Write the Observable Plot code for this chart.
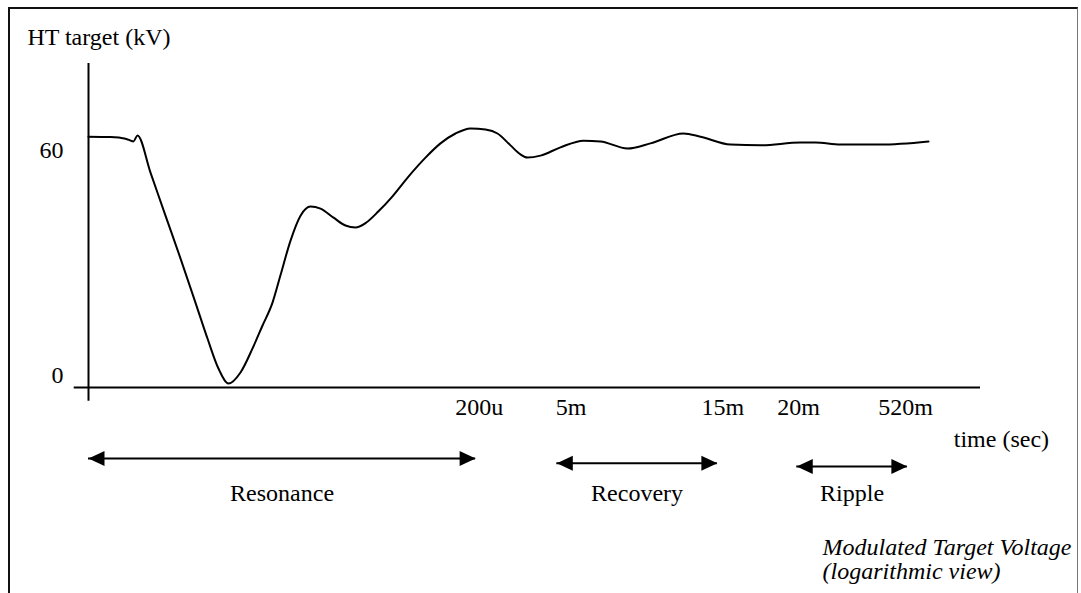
<!DOCTYPE html>
<html><head><meta charset="utf-8">
<script src="https://cdn.jsdelivr.net/npm/d3@7"></script>
<script src="https://cdn.jsdelivr.net/npm/@observablehq/plot@0.6"></script>
<style>
body{margin:0;background:#fff;}
#wrap{position:relative;width:1081px;height:593px;overflow:hidden;background:#fff;}
#frame{position:absolute;left:8px;top:7px;width:1067px;height:600px;border-top:2px solid #111;border-left:2px solid #111;border-right:1px solid #777;pointer-events:none;}
svg text{font-family:"Liberation Serif","Times New Roman",serif;}
</style></head><body><div id="wrap"><div id="chart"></div><div id="frame"></div></div>
<script>
// position along the (logarithmic, schematic) time axis, 0..100
const timePos = [0, 2.47, 4.15, 5.04, 5.49, 6.95, 8.63, 10.31, 11.99, 13.34, 14.57, 15.70, 17.04, 18.39, 19.51, 20.63, 21.52, 22.65, 23.77, 24.89, 26.01, 27.47, 28.81, 29.93, 31.05, 32.51, 34.08, 35.87, 37.78, 39.46, 41.14, 42.83, 44.51, 45.85, 47.31, 48.43, 49.22, 50.67, 52.91, 55.49, 57.40, 60.43, 63.00, 66.70, 68.61, 71.97, 75.34, 79.82, 81.50, 84.30, 88.79, 94.17];
// HT target voltage (kV)
const voltage = [63.5, 63.4, 63.0, 62.3, 63.8, 54.4, 43.5, 32.7, 21.5, 12.4, 4.8, 1.0, 3.8, 9.9, 15.7, 21.5, 28.4, 37.2, 43.5, 45.8, 45.3, 43.0, 41.0, 40.5, 41.6, 44.6, 48.4, 53.4, 58.2, 61.8, 64.3, 65.6, 65.3, 64.3, 61.3, 59.0, 58.2, 58.7, 60.8, 62.5, 62.3, 60.5, 61.8, 64.3, 63.5, 61.5, 61.3, 62.0, 62.0, 61.5, 61.5, 62.3];

const xTickLabels = ["200u", "5m", "15m", "20m", "520m"];
const xTickPos = [43.8, 54.1, 71.1, 79.6, 91.6];

const phaseNames = ["Resonance", "Recovery", "Ripple"];
const phaseStart = [0, 52.5, 79.4];
const phaseEnd = [43.4, 70.5, 91.8];

const curve = timePos.map((t, i) => ({t, v: voltage[i]}));
const ticks = xTickLabels.map((label, i) => ({label, t: xTickPos[i]}));
const arrowLevel = [-18, -19.2, -20];
const phases = phaseNames.map((name, i) => ({name, a: phaseStart[i], b: phaseEnd[i], y: arrowLevel[i], mid: (phaseStart[i] + phaseEnd[i]) / 2}));

const headRight = {draw(ctx) { ctx.moveTo(0, 0); ctx.lineTo(-16, -7.5); ctx.lineTo(-16, 7.5); ctx.closePath(); }};
const headLeft = {draw(ctx) { ctx.moveTo(0, 0); ctx.lineTo(16, -7.5); ctx.lineTo(16, 7.5); ctx.closePath(); }};

const font = "'Liberation Serif', 'Times New Roman', serif";
const chart = Plot.plot({
  width: 1081, height: 593,
  marginTop: 0, marginRight: 0, marginBottom: 0, marginLeft: 0,
  x: {domain: [0, 100], range: [88, 980], axis: null},
  y: {domain: [0, 60], range: [387, 150], axis: null},
  style: {fontFamily: font, fontSize: "24px", background: "transparent", overflow: "visible"},
  marks: [
    Plot.ruleX([0], {y1: -3.5, y2: 82, stroke: "#000", strokeWidth: 2}),
    Plot.ruleY([0], {x1: -1.6, x2: 100, stroke: "#000", strokeWidth: 2}),
    Plot.line(curve, {x: "t", y: "v", curve: "monotone-x", stroke: "#000", strokeWidth: 2}),
    Plot.text(["HT target (kV)"], {x: -6.85, y: 88.6, text: d => d, textAnchor: "start", fontSize: 24, fill: "#000"}),
    Plot.text(["60"], {x: -2.8, y: 60, text: d => d, textAnchor: "end", fontSize: 24, fill: "#000"}),
    Plot.text(["0"], {x: -2.8, y: 0, dy: -12, text: d => d, textAnchor: "end", fontSize: 24, fill: "#000"}),
    Plot.text(ticks, {x: "t", y: 0, dy: 20, text: "label", textAnchor: "middle", fontSize: 24, fill: "#000"}),
    Plot.text(["time (sec)"], {x: 97.0, y: 0, dy: 52, text: d => d, textAnchor: "start", fontSize: 24, fill: "#000"}),
    Plot.ruleY(phases, {x1: d => d.a, x2: d => d.b, y: "y", stroke: "#000", strokeWidth: 2}),
    Plot.dot(phases, {x: "b", y: "y", symbol: headRight, fill: "#000", stroke: null}),
    Plot.dot(phases, {x: "a", y: "y", symbol: headLeft, fill: "#000", stroke: null}),
    Plot.text(phases, {x: "mid", y: -26.1, dy: 3, text: "name", textAnchor: "middle", fontSize: 24, fill: "#000"}),
    Plot.text(["Modulated Target Voltage", "(logarithmic view)"], {x: 82.3, y: (d, i) => i === 0 ? -40.5 : -46.6, text: d => d, textAnchor: "start", fontSize: 24, fontStyle: "italic", fill: "#000"})
  ]
});
document.getElementById("chart").appendChild(chart);
</script>
</body></html>
